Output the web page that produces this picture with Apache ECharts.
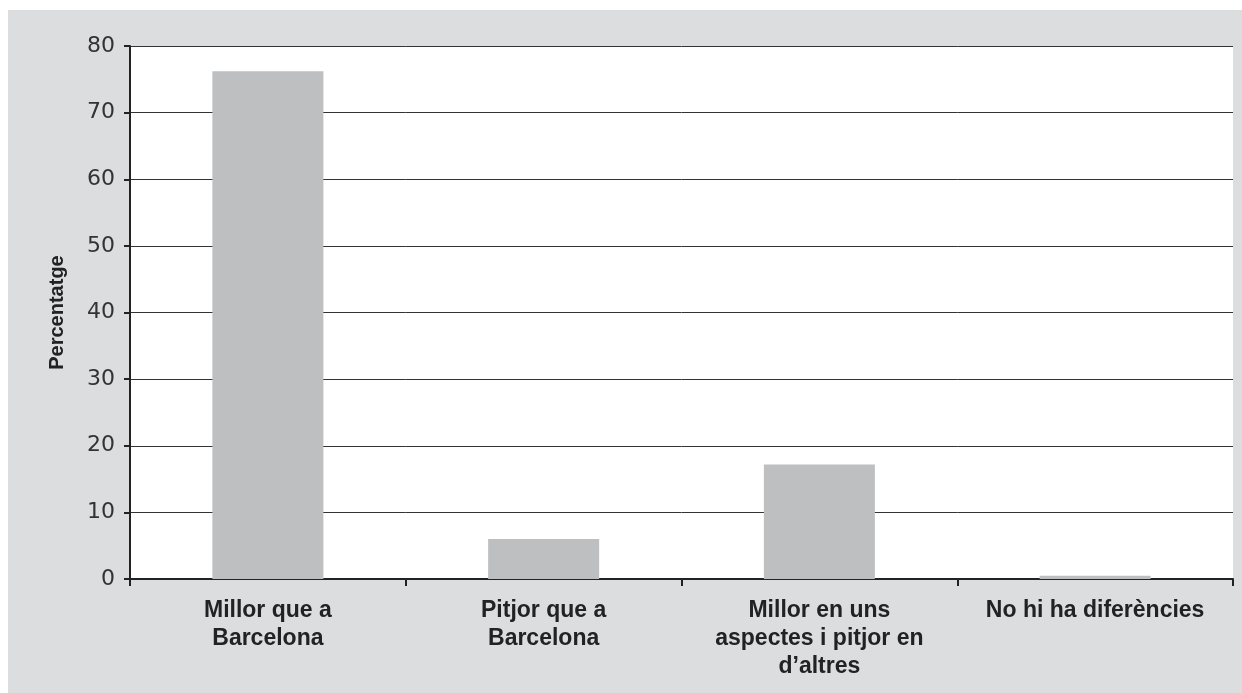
<!DOCTYPE html>
<html><head><meta charset="utf-8">
<script src="https://cdn.jsdelivr.net/npm/echarts@6/dist/echarts.min.js"></script>
<style>html,body{margin:0;padding:0;background:#fff}#c{width:1242px;height:693px}</style>
</head><body><div id="c"></div>
<script>
const categories = ["Millor que a\nBarcelona", "Pitjor que a\nBarcelona", "Millor en uns\naspectes i pitjor en\nd\u2019altres", "No hi ha diferències"];
const values = [76.2, 6.0, 17.2, 0.5];
const yTicks = [0, 10, 20, 30, 40, 50, 60, 70, 80];
const axisTitle = "Percentatge";

const chart = echarts.init(document.getElementById('c'), null, {renderer: 'canvas'});
chart.setOption({
  animation: false,
  backgroundColor: '#ffffff',
  graphic: [{
    type: 'rect', z: -10, silent: true,
    shape: {x: 8, y: 10, width: 1234, height: 683},
    style: {fill: '#dcdddf'}
  }, {
    type: 'rect', z: -9, silent: true,
    shape: {x: 130, y: 46, width: 1103, height: 533},
    style: {fill: '#ffffff'}
  }],
  grid: {left: 130, right: 9, top: 46, bottom: 114, containLabel: false},
  xAxis: {
    type: 'category',
    data: categories,
    axisLine: {lineStyle: {color: '#222', width: 2}},
    axisTick: {show: true, alignWithLabel: false, interval: 0, length: 7, lineStyle: {color: '#222', width: 2}},
    axisLabel: {interval: 0, margin: 18, color: '#222', fontFamily: 'Liberation Sans', fontWeight: 'bold', fontSize: 23, lineHeight: 28, align: 'center', verticalAlign: 'top'},
    splitLine: {show: false}
  },
  yAxis: {
    type: 'value',
    min: yTicks[0], max: yTicks[yTicks.length - 1], interval: 10,
    name: axisTitle,
    nameLocation: 'middle',
    nameGap: 63,
    nameRotate: 90,
    nameTextStyle: {color: '#222', fontFamily: 'Liberation Sans', fontWeight: 'bold', fontSize: 20},
    axisLine: {show: true, lineStyle: {color: '#222', width: 2}},
    axisTick: {show: true, length: 6, lineStyle: {color: '#222', width: 2}},
    axisLabel: {margin: 15, color: '#333', fontFamily: 'DejaVu Sans', fontSize: 22},
    splitLine: {show: true, lineStyle: {color: '#333', width: 1}}
  },
  series: [{
    type: 'bar',
    data: values,
    barWidth: 111,
    itemStyle: {color: '#bebfc1'},
    z: 3
  }]
});
</script></body></html>
